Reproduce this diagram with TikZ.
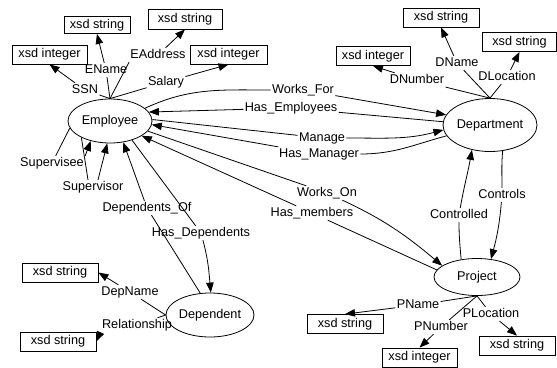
\documentclass[tikz,border=0pt]{standalone}
\usepackage{fontspec}
\setmainfont{Liberation Sans}
\usetikzlibrary{arrows.meta,shapes.geometric}
\begin{document}
\begin{tikzpicture}[x=1pt,y=1pt,
  every node/.style={font=\fontsize{12.7}{14}\selectfont},
  cls/.style={draw, ellipse, line width=0.8pt, inner sep=0pt},
  typ/.style={draw, rectangle, line width=0.8pt, minimum width=#1, minimum height=19pt, inner sep=0pt, text height=9pt, text depth=2.5pt},
  typ/.default=75pt,
  lab/.style={inner sep=1.2pt, text height=9pt, text depth=2.5pt},
  rel/.style={line width=0.8pt, -{Triangle[length=10pt,width=7.5pt]}},
  ln/.style={line width=0.8pt}
]
\fill[white] (0,0) rectangle (557,-367);
\useasboundingbox (0,0) rectangle (557,-367);

% classes
\node[cls, minimum width=84pt, minimum height=44pt] (emp) at (110,-121) {Employee};
\node[cls, minimum width=94pt, minimum height=53pt] (dept) at (490,-125) {Department};
\node[cls, minimum width=86pt, minimum height=37pt] (proj) at (477,-277) {Project};
\node[cls, minimum width=88pt, minimum height=44pt] (dep) at (210,-315) {Dependent};

% datatype boxes
\node[typ] (b1) at (49.5,-54.5) {xsd integer};
\node[typ=66pt, minimum height=17pt] (b2) at (97,-25) {xsd string};
\node[typ=74pt, minimum height=20pt] (b3) at (185,-19) {xsd string};
\node[typ=77pt] (b4) at (228.5,-54.5) {xsd integer};
\node[typ=74pt] (b5) at (373,-56) {xsd integer};
\node[typ=76pt] (b6) at (441,-17.5) {xsd string};
\node[typ=74pt] (b7) at (519.5,-42) {xsd string};
\node[typ=76pt] (b8) at (60,-272.5) {xsd string};
\node[typ=76pt] (b9) at (58,-341.5) {xsd string};
\node[typ=76pt] (b10) at (345,-324) {xsd string};
\node[typ=75pt] (b11) at (419.5,-357.5) {xsd integer};
\node[typ=76pt] (b12) at (517,-345.5) {xsd string};

% labels
\node[lab] (lSSN) at (85,-90) {SSN};
\node[lab] (lEName) at (106,-70) {EName};
\node[lab] (lEAddress) at (158,-55) {EAddress};
\node[lab] (lSalary) at (166,-82) {Salary};
\node[lab] (lDNumber) at (417,-80) {DNumber};
\node[lab] (lDName) at (457,-63) {DName};
\node[lab] (lDLocation) at (507,-77) {DLocation};
\node[lab] (lSupervisee) at (52,-163) {Supervisee};
\node[lab] (lSupervisor) at (93,-187) {Supervisor};
\node[lab] (lDepOf) at (147,-208) {Dependents\_Of};
\node[lab] (lHasDep) at (201,-233) {Has\_Dependents};
\node[lab] (lDepName) at (130,-292) {DepName};
\node[lab] (lRel) at (137,-325) {Relationship};
\node[lab] (lWorksOn) at (327,-193) {Works\_On};
\node[lab] (lHasMem) at (312,-213) {Has\_members};
\node[lab] (lControlled) at (459,-215) {Controlled};
\node[lab] (lControls) at (502,-195) {Controls};
\node[lab] (lPName) at (418,-305) {PName};
\node[lab] (lPLoc) at (491,-314) {PLocation};
\node[lab] (lPNum) at (441,-327) {PNumber};
\node[lab] (lWorksFor) at (303,-90) {Works\_For};
\node[lab] (lHasEmp) at (291,-108) {Has\_Employees};
\node[lab] (lManage) at (322,-138) {Manage};
\node[lab] (lHasMgr) at (319,-154) {Has\_Manager};

% Employee attributes
\draw[rel] (emp.north) -- (lSSN) -- (b1.south);
\draw[rel] (emp.north) -- (lEName) -- (b2.south);
\draw[rel] (emp.north) -- (lEAddress.south west) (lEAddress) -- (b3.south);
\draw[rel] (emp.north) -- (lSalary) -- (b4.south);

% Department attributes
\draw[rel] (dept.north) -- (lDNumber) -- (b5.south);
\draw[rel] (dept.north) -- (lDName) -- (b6.south);
\draw[rel] (dept.north) -- (lDLocation) -- (b7.south);

% Project attributes
\draw[rel] (proj.south) -- (lPName) -- (b10.north);
\draw[rel] (proj.south) -- (lPNum) -- (b11.north);
\draw[rel] (proj.south) -- (lPLoc) -- (b12.north);

% Dependent attributes
\draw[rel] (dep.west) -- (lDepName) -- (b8.east);
\draw[rel] (dep.west) -- (lRel) (lRel.south west) -- (b9.east);

% Employee - Department
\draw[rel] (emp.20) to[out=25,in=180] (lWorksFor) -- (dept.167);
\draw[rel] (dept.176) -- (lHasEmp) -- (emp.13);
\draw[rel] (emp.2) -- (lManage) to[out=0,in=195] (dept.186);
\draw[rel] (dept.194) to[out=195,in=0] (lHasMgr) -- (emp.-5);

% Employee - Project
\draw[rel] (emp.-15) -- (lWorksOn) to[out=-25,in=140] (proj.162);
\draw[rel] (proj.170) -- (lHasMem) -- (emp.-25);

% Department - Project
\draw[rel] (proj.132) to[out=95,in=-90] (lControlled) to[out=80,in=260] (dept.234);
\draw[rel] (dept.-64) to[out=-95,in=90] (lControls) to[out=-95,in=75] (proj.52);

% Employee self loops
\draw[rel] (emp.190) -- (lSupervisee) (lSupervisee.north east) -- (emp.226);
\draw[rel] (emp.210) -- (lSupervisor.125) (lSupervisor.55) -- (emp.263);

% Employee - Dependent
\draw[rel] (dep.114) -- (lDepOf) -- (emp.-58);
\draw[rel] (emp.-41) -- (lHasDep) to[out=-75,in=95] (dep.88);
\end{tikzpicture}
\end{document}
